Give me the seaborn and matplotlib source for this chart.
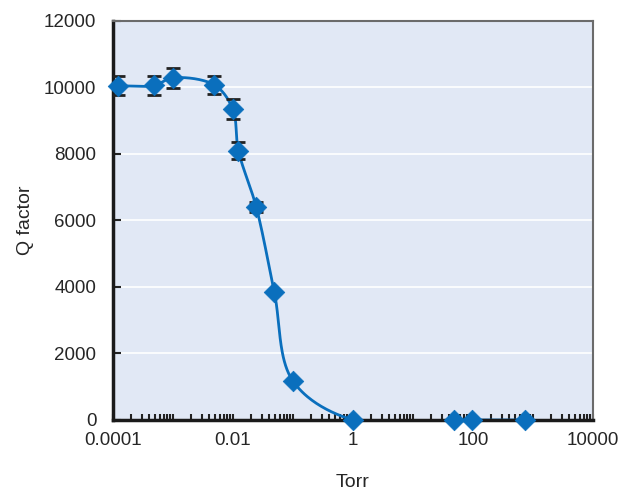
import numpy as np
import pandas as pd
import seaborn as sns
import matplotlib.pyplot as plt
from matplotlib.ticker import LogLocator, NullFormatter

# dados
pressao = [1.2e-4, 4.8e-4, 1.0e-3, 4.9e-3, 9.9e-3, 0.0123, 0.0244, 0.0488, 0.099, 1.0, 48.8, 97, 735]
q_fator = [10050, 10060, 10290, 10075, 9350, 8100, 6400, 3840, 1180, 0, 0, 0, 0]
erro = [290, 300, 310, 280, 290, 250, 150, 0, 0, 0, 0, 0, 0]

df = pd.DataFrame({'Torr': pressao, 'Q': q_fator, 'erro': erro})

azul = '#0A6FBD'
fundo = '#E1E8F5'

sns.set_style('white')
plt.rcParams['font.family'] = ['Liberation Sans', 'DejaVu Sans']

fig = plt.figure(figsize=(6.37, 4.9), dpi=100)
ax = fig.add_axes([0.1774, 0.1429, 0.7536, 0.8143])
ax.set_facecolor(fundo)
ax.set_xscale('log')

# linha suave: Catmull-Rom centrípeta em coordenadas de tela (log x, y)
P = np.column_stack([(np.log10(df['Torr'].values) + 4) * 60, df['Q'].values / 12000 * 399])
P = np.vstack([2 * P[0] - P[1], P, 2 * P[-1] - P[-2]])
curva = []
for i in range(1, len(P) - 2):
    p0, p1, p2, p3 = P[i - 1], P[i], P[i + 1], P[i + 2]
    t0 = 0.0
    t1 = t0 + np.linalg.norm(p1 - p0) ** 0.5
    t2 = t1 + np.linalg.norm(p2 - p1) ** 0.5
    t3 = t2 + np.linalg.norm(p3 - p2) ** 0.5
    t = np.linspace(t1, t2, 40)[:, None]
    a1 = (t1 - t) / (t1 - t0) * p0 + (t - t0) / (t1 - t0) * p1
    a2 = (t2 - t) / (t2 - t1) * p1 + (t - t1) / (t2 - t1) * p2
    a3 = (t3 - t) / (t3 - t2) * p2 + (t - t2) / (t3 - t2) * p3
    b1 = (t2 - t) / (t2 - t0) * a1 + (t - t0) / (t2 - t0) * a2
    b2 = (t3 - t) / (t3 - t1) * a2 + (t - t1) / (t3 - t1) * a3
    curva.append((t2 - t) / (t2 - t1) * b1 + (t - t1) / (t2 - t1) * b2)
curva = np.vstack(curva)
cx = 10 ** (curva[:, 0] / 60 - 4)
cy = curva[:, 1] / 399 * 12000
sns.lineplot(x=cx, y=cy, ax=ax, color=azul, lw=2, sort=False, estimator=None)

for yv in range(2000, 12000, 2000):
    ax.axhline(yv, color='white', lw=1.2, zorder=0)

com_erro = df[df['erro'] > 0]
ax.errorbar(com_erro['Torr'], com_erro['Q'], yerr=com_erro['erro'], fmt='none',
            ecolor='#222222', elinewidth=1.5, capsize=5, capthick=2, zorder=3)
sns.scatterplot(data=df, x='Torr', y='Q', ax=ax, marker='D', s=110, color=azul,
                edgecolor=azul, linewidth=0.5, zorder=4, clip_on=False)

ax.set_xlim(1e-4, 1e4)
ax.set_ylim(0, 12000)
ax.set_yticks(range(0, 12001, 2000))
ax.set_xticks([1e-4, 1e-2, 1, 1e2, 1e4])
ax.set_xticklabels(['0.0001', '0.01', '1', '100', '10000'])
ax.xaxis.set_minor_locator(LogLocator(base=10, subs=np.arange(1, 10), numticks=100))
ax.xaxis.set_minor_formatter(NullFormatter())
ax.tick_params(axis='x', which='both', bottom=True, direction='in', length=4, width=1.5,
               color='#222222', labelsize=13.5, pad=9)
ax.tick_params(axis='y', which='major', left=True, direction='in', length=6, width=1.5,
               color='#222222', labelsize=13.5, pad=12)

for lado in ('left', 'bottom'):
    ax.spines[lado].set_color('#1a1a1a')
    ax.spines[lado].set_linewidth(2.5)
for lado in ('top', 'right'):
    ax.spines[lado].set_color('#6b6b6b')
    ax.spines[lado].set_linewidth(1.5)

ax.set_xlabel('Torr', fontsize=14, labelpad=18)
ax.set_ylabel('Q factor', fontsize=14, labelpad=7)

fig.savefig('out.png', dpi=100)
